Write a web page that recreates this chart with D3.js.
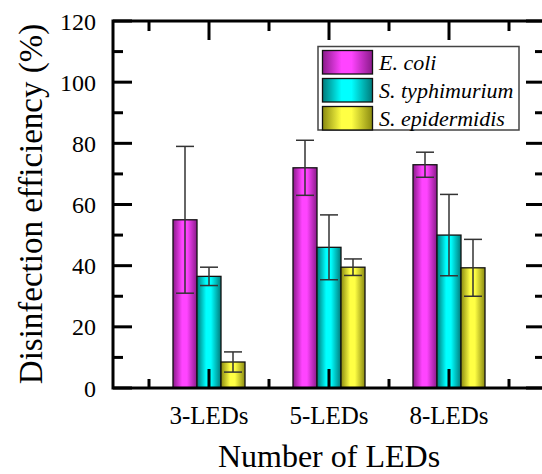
<!DOCTYPE html>
<html><head><meta charset="utf-8">
<script src="https://cdn.jsdelivr.net/npm/d3@7"></script>
<style>body{margin:0;background:#fff}svg{display:block}</style>
</head><body>
<script>
const categories = ["3-LEDs", "5-LEDs", "8-LEDs"];
const seriesNames = ["E. coli", "S. typhimurium", "S. epidermidis"];
const ecoli = [55, 72, 73];
const ecoliErr = [24, 9, 4.1];
const styph = [36.5, 46, 50];
const styphErr = [3, 10.6, 13.3];
const sepi = [8.5, 39.5, 39.3];
const sepiErr = [3.3, 2.7, 9.3];
const yTicks = [0, 20, 40, 60, 80, 100, 120];

const values = [ecoli, styph, sepi];
const errs = [ecoliErr, styphErr, sepiErr];
const colors = [
  {dark: "#8a1a8a", bright: "#ff44ff"},
  {dark: "#007a7a", bright: "#00ffff"},
  {dark: "#8a8a10", bright: "#ffff44"}
];

const W = 542, H = 474;
const svg = d3.select("body").append("svg").attr("width", W).attr("height", H);
const defs = svg.append("defs");
colors.forEach((c, i) => {
  const g = defs.append("linearGradient").attr("id", "g" + i)
    .attr("x1", "0%").attr("x2", "100%").attr("y1", "0%").attr("y2", "0%");
  g.append("stop").attr("offset", "0%").attr("stop-color", c.dark);
  g.append("stop").attr("offset", "38%").attr("stop-color", c.bright);
  g.append("stop").attr("offset", "58%").attr("stop-color", c.bright);
  g.append("stop").attr("offset", "100%").attr("stop-color", c.dark);
});

const pLeft = 113, pRight = 545, pTop = 21, pBottom = 388;
const x = d3.scaleLinear().domain([0.2, 3.8]).range([pLeft, pRight]);
const y = d3.scaleLinear().domain([0, 120]).range([pBottom, pTop]);
const barW = 24;

const font = "'Liberation Serif','Times New Roman',serif";

// bars
values.forEach((vals, s) => {
  const off = (s - 1) * barW;
  svg.append("g").selectAll("rect").data(vals).join("rect")
    .attr("x", (d, i) => x(i + 1) + off - barW / 2)
    .attr("y", d => y(d))
    .attr("width", barW)
    .attr("height", d => y(0) - y(d))
    .attr("fill", `url(#g${s})`)
    .attr("stroke", "#111").attr("stroke-width", 1.3);
});
// error bars
values.forEach((vals, s) => {
  const off = (s - 1) * barW;
  const g = svg.append("g").attr("stroke", "#333").attr("stroke-width", 1.5).attr("fill", "none");
  vals.forEach((d, i) => {
    const cx = x(i + 1) + off;
    const e = errs[s][i];
    g.append("line").attr("x1", cx).attr("x2", cx).attr("y1", y(d + e)).attr("y2", y(d - e));
    g.append("line").attr("x1", cx - 9).attr("x2", cx + 9).attr("y1", y(d + e)).attr("y2", y(d + e));
    g.append("line").attr("x1", cx - 9).attr("x2", cx + 9).attr("y1", y(d - e)).attr("y2", y(d - e));
  });
});

// axes
const majorX = [1, 2, 3], minorX = [0.5, 1.5, 2.5, 3.5];
const minorY = [10, 30, 50, 70, 90, 110];
const ax = svg.append("g").attr("stroke", "#000").attr("stroke-width", 3).attr("fill", "none");
ax.append("rect").attr("x", pLeft).attr("y", pTop).attr("width", pRight - pLeft).attr("height", pBottom - pTop);
yTicks.forEach(t => {
  ax.append("line").attr("x1", pLeft).attr("x2", pLeft + 19).attr("y1", y(t)).attr("y2", y(t));
  ax.append("line").attr("x1", pRight).attr("x2", pRight - 19).attr("y1", y(t)).attr("y2", y(t));
});
minorY.forEach(t => {
  ax.append("line").attr("x1", pLeft).attr("x2", pLeft + 10).attr("y1", y(t)).attr("y2", y(t));
  ax.append("line").attr("x1", pRight).attr("x2", pRight - 10).attr("y1", y(t)).attr("y2", y(t));
});
majorX.forEach(t => {
  ax.append("line").attr("x1", x(t)).attr("x2", x(t)).attr("y1", pBottom).attr("y2", pBottom - 19);
  ax.append("line").attr("x1", x(t)).attr("x2", x(t)).attr("y1", pTop).attr("y2", pTop + 19);
});
minorX.forEach(t => {
  ax.append("line").attr("x1", x(t)).attr("x2", x(t)).attr("y1", pBottom).attr("y2", pBottom - 9);
  ax.append("line").attr("x1", x(t)).attr("x2", x(t)).attr("y1", pTop).attr("y2", pTop + 10);
});

// tick labels
svg.append("g").selectAll("text").data(yTicks).join("text")
  .attr("x", 96).attr("y", d => y(d) + 8.5)
  .attr("text-anchor", "end").attr("font-family", font).attr("font-size", 24)
  .text(d => d);
svg.append("g").selectAll("text").data(categories).join("text")
  .attr("x", (d, i) => x(i + 1)).attr("y", 424)
  .attr("text-anchor", "middle").attr("font-family", font).attr("font-size", 25)
  .text(d => d);

// titles
svg.append("text").attr("x", 329).attr("y", 467)
  .attr("text-anchor", "middle").attr("font-family", font).attr("font-size", 32)
  .text("Number of LEDs");
svg.append("text").attr("transform", `translate(42,${(23 + 385) / 2}) rotate(-90)`)
  .attr("text-anchor", "middle").attr("font-family", font).attr("font-size", 33)
  .text("Disinfection efficiency (%)");

// legend
const lg = svg.append("g");
lg.append("rect").attr("x", 318).attr("y", 46.5).attr("width", 201).attr("height", 83.5)
  .attr("fill", "#fff").attr("stroke", "#444").attr("stroke-width", 1.5);
seriesNames.forEach((n, i) => {
  const yy = 50.5 + i * 28;
  lg.append("rect").attr("x", 322.5).attr("y", yy).attr("width", 50).attr("height", 23.5)
    .attr("fill", `url(#g${i})`).attr("stroke", "#111").attr("stroke-width", 1.3);
  lg.append("text").attr("x", 379).attr("y", yy + 19)
    .attr("font-family", font).attr("font-style", "italic").attr("font-size", 22)
    .text(n);
});
</script>
</body></html>
